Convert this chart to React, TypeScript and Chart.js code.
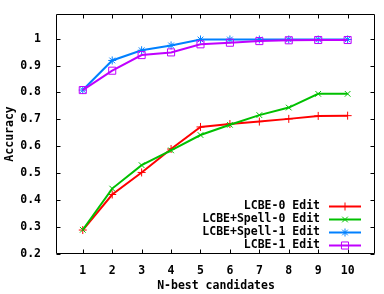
import React, { useEffect, useRef } from 'react';
import { Chart, registerables } from 'chart.js';
import { drawPoint } from 'chart.js/helpers';

Chart.register(...registerables);

const categories = [1, 2, 3, 4, 5, 6, 7, 8, 9, 10];
const seriesLabels = ['LCBE-0 Edit', 'LCBE+Spell-0 Edit', 'LCBE+Spell-1 Edit', 'LCBE-1 Edit'];
const lcbe0 = [0.289, 0.421, 0.503, 0.59, 0.672, 0.683, 0.692, 0.702, 0.713, 0.714];
const lcbeSpell0 = [0.29, 0.443, 0.53, 0.585, 0.642, 0.68, 0.716, 0.744, 0.795, 0.795];
const lcbeSpell1 = [0.809, 0.919, 0.957, 0.975, 0.997, 0.997, 0.997, 0.997, 0.997, 0.997];
const lcbe1 = [0.809, 0.881, 0.939, 0.949, 0.979, 0.985, 0.991, 0.994, 0.995, 0.995];
const yTicks = [0.2, 0.3, 0.4, 0.5, 0.6, 0.7, 0.8, 0.9, 1.0];
const xTitle = 'N-best candidates';
const yTitle = 'Accuracy';

const colors = ['#ff0000', '#00c000', '#0080ff', '#c000ff'];
const pointStyles = ['cross', 'crossRot', 'star', 'rect'];
const pointRadii = [4, 4, 4, 5];
const FONT = '"DejaVu Sans Mono", monospace';

const seriesValues = [lcbe0, lcbeSpell0, lcbeSpell1, lcbe1];

const framePlugin = {
  id: 'gnuframe',
  beforeDatasetsDraw(chart: any) {
    const { ctx, chartArea: a, scales } = chart;
    ctx.save();
    ctx.strokeStyle = '#000';
    ctx.lineWidth = 1;
    ctx.beginPath();
    const L = Math.round(a.left) + 0.5, R = Math.round(a.right) - 0.5;
    const T = Math.round(a.top) + 0.5, B = Math.round(a.bottom) - 0.5;
    ctx.rect(L, T, R - L, B - T);
    const tl = 4;
    for (const v of yTicks) {
      const y = Math.round(scales.y.getPixelForValue(v)) + 0.5;
      ctx.moveTo(L, y); ctx.lineTo(L + tl, y);
      ctx.moveTo(R, y); ctx.lineTo(R - tl, y);
    }
    for (const v of categories) {
      const x = Math.round(scales.x.getPixelForValue(v)) + 0.5;
      ctx.moveTo(x, B); ctx.lineTo(x, B - tl);
      ctx.moveTo(x, T); ctx.lineTo(x, T + tl);
    }
    ctx.stroke();
    ctx.restore();
  },
  afterDraw(chart: any) {
    const { ctx, chartArea: a } = chart;
    ctx.save();
    ctx.fillStyle = '#000';
    ctx.font = `bold 11.5px ${FONT}`;
    ctx.textAlign = 'center';
    ctx.textBaseline = 'middle';
    ctx.fillText(xTitle, (a.left + a.right) / 2 + 0.5, 286);
    ctx.save();
    ctx.translate(10, (a.top + a.bottom) / 2);
    ctx.rotate(-Math.PI / 2);
    ctx.fillText(yTitle, 0, 0);
    ctx.restore();
    // legend
    const textRight = 320;
    const lineX0 = 329, lineX1 = 361;
    const rowY0 = 206, rowH = 12.9;
    seriesLabels.forEach((lab, i) => {
      const y = rowY0 + i * rowH;
      ctx.textAlign = 'right';
      ctx.fillStyle = '#000';
      ctx.fillText(lab, textRight, y);
      ctx.strokeStyle = colors[i];
      ctx.lineWidth = 2;
      ctx.beginPath();
      ctx.moveTo(lineX0, Math.round(y) + 0.5);
      ctx.lineTo(lineX1, Math.round(y) + 0.5);
      ctx.stroke();
      ctx.lineWidth = 1;
      ctx.fillStyle = 'rgba(0,0,0,0)';
      ctx.strokeStyle = colors[i];
      drawPoint(ctx, { pointStyle: pointStyles[i], radius: pointRadii[i], borderWidth: 1, rotation: 0 } as any, (lineX0 + lineX1) / 2, Math.round(y) + 0.5);
    });
    ctx.restore();
  },
};

export default function App() {
  const ref = useRef<HTMLCanvasElement>(null);
  useEffect(() => {
    if (!ref.current) return;
    const chart = new Chart(ref.current, {
      type: 'line',
      data: {
        datasets: seriesValues.map((vals, i) => ({
          label: seriesLabels[i],
          data: categories.map((c, j) => ({ x: c, y: vals[j] })),
          borderColor: colors[i],
          backgroundColor: 'rgba(0,0,0,0)',
          borderWidth: 2,
          pointStyle: pointStyles[i] as any,
          pointRadius: pointRadii[i],
          pointBorderWidth: 1,
          pointBorderColor: colors[i],
          pointBackgroundColor: 'rgba(0,0,0,0)',
          tension: 0,
          order: 4 - i,
        })),
      },
      options: {
        animation: false,
        responsive: false,
        maintainAspectRatio: false,
        layout: { padding: { top: 7, right: 9, left: 0, bottom: 0 } },
        plugins: { legend: { display: false }, tooltip: { enabled: false } },
        scales: {
          x: {
            type: 'linear',
            min: 0.09,
            max: 10.93,
            grid: { display: false },
            border: { display: false },
            ticks: {
              color: '#000',
              font: { family: FONT, size: 11.5, weight: 'bold' },
              padding: 2,
              autoSkip: false,
              maxRotation: 0,
              callback: (v: any) => String(v),
            },
            afterBuildTicks: (s: any) => { s.ticks = categories.map((v) => ({ value: v })); },
            afterFit: (s: any) => { s.height = 40; },
          },
          y: {
            type: 'linear',
            min: 0.2,
            max: 1.092,
            grid: { display: false },
            border: { display: false },
            ticks: {
              color: '#000',
              font: { family: FONT, size: 11.5, weight: 'bold' },
              padding: 7,
              autoSkip: false,
              callback: (v: any) => (Math.abs(v - 1) < 1e-9 ? '1' : Number(v).toFixed(1)),
            },
            afterBuildTicks: (s: any) => { s.ticks = yTicks.map((v) => ({ value: v })); },
            afterFit: (s: any) => { s.width = 56; },
          },
        },
      },
      plugins: [framePlugin],
    });
    return () => chart.destroy();
  }, []);
  return (
    <div style={{ position: 'absolute', left: 0, top: 0, width: 384, height: 294, background: '#fff' }}>
      <canvas ref={ref} width={384} height={294} style={{ width: 384, height: 294, display: 'block' }} />
    </div>
  );
}
